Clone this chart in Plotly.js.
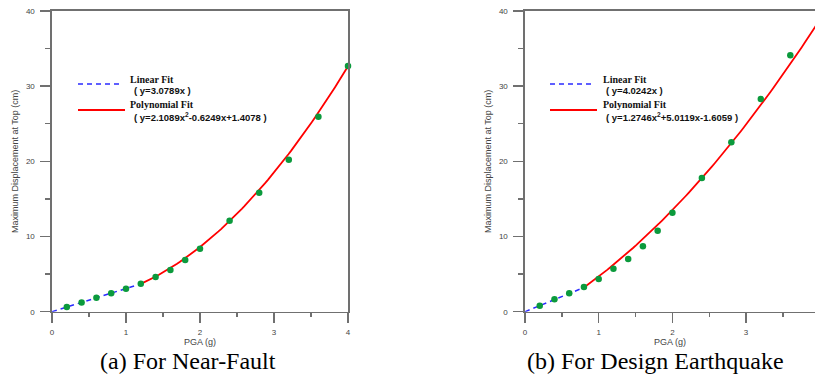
<!DOCTYPE html>
<html>
<head>
<meta charset="utf-8">
<script src="https://cdn.plot.ly/plotly-3.0.1.min.js"></script>
<style>html,body{margin:0;padding:0;background:#fff;}#chart{width:815px;height:375px;}</style>
</head>
<body>
<div id="chart"></div>
<script>
// ---- Data ----
const pgaA  = [0.2, 0.4, 0.6, 0.8, 1.0, 1.2, 1.4, 1.6, 1.8, 2.0, 2.4, 2.8, 3.2, 3.6, 4.0];
const dispA = [0.62, 1.24, 1.86, 2.44, 3.06, 3.72, 4.61, 5.54, 6.87, 8.38, 12.1, 15.83, 20.2, 25.94, 32.68];
const pgaB  = [0.2, 0.4, 0.6, 0.8, 1.0, 1.2, 1.4, 1.6, 1.8, 2.0, 2.4, 2.8, 3.2, 3.6];
const dispB = [0.80, 1.64, 2.44, 3.28, 4.35, 5.72, 7.01, 8.69, 10.78, 13.17, 17.78, 22.53, 28.29, 34.1];

// Fit coefficients as printed in the chart
const linCoefA  = 3.0789;
const polyCoefA = [2.1089, -0.6249, 1.4078];
const linCoefB  = 4.0242;
const polyCoefB = [1.2746, 5.0119, -1.6059];
// x extents of the drawn fit curves
const linSpanA  = [0, 1.16];
const polySpanA = [1.2, 4.0];
const linSpanB  = [0, 0.75];
const polySpanB = [0.8, 3.95];

const captions = ['(a) For Near-Fault', '(b) For Design Earthquake'];
const legendLabels = ['Linear Fit', 'Polynomial Fit'];
const eqA = ['( y=3.0789x )', '( y=2.1089x<sup>2</sup>-0.6249x+1.4078 )'];
const eqB = ['( y=4.0242x )', '( y=1.2746x<sup>2</sup>+5.0119x-1.6059 )'];

function samples(span, n) {
  const xs = [];
  for (let i = 0; i <= n; i++) xs.push(span[0] + (span[1] - span[0]) * i / n);
  return xs;
}
function linCurve(k, span) {
  const xs = samples(span, 20);
  return {x: xs, y: xs.map(v => k * v)};
}
function polyCurve(c, span) {
  const xs = samples(span, 80);
  return {x: xs, y: xs.map(v => c[0] * v * v + c[1] * v + c[2])};
}

const BLUE = '#2b2bff', RED = '#ff0000', GREEN = '#0b9a3c';
const lA = linCurve(linCoefA, linSpanA), pA = polyCurve(polyCoefA, polySpanA);
const lB = linCurve(linCoefB, linSpanB), pB = polyCurve(polyCoefB, polySpanB);

const traces = [
  {x: lA.x, y: lA.y, xaxis: 'x', yaxis: 'y', mode: 'lines', line: {color: BLUE, width: 1.5, dash: '5px,4px'}},
  {x: pA.x, y: pA.y, xaxis: 'x', yaxis: 'y', mode: 'lines', line: {color: RED, width: 1.8}},
  {x: pgaA, y: dispA, xaxis: 'x', yaxis: 'y', mode: 'markers', cliponaxis: false, marker: {color: GREEN, size: 6.5}},
  {x: lB.x, y: lB.y, xaxis: 'x2', yaxis: 'y2', mode: 'lines', line: {color: BLUE, width: 1.5, dash: '5px,4px'}},
  {x: pB.x, y: pB.y, xaxis: 'x2', yaxis: 'y2', mode: 'lines', line: {color: RED, width: 1.8}},
  {x: pgaB, y: dispB, xaxis: 'x2', yaxis: 'y2', mode: 'markers', cliponaxis: false, marker: {color: GREEN, size: 6.5}}
];

const W = 815, H = 375;
const px = v => v / W, py = v => 1 - v / H;
const AXC = '#707070', TXT = '#444444';
const tickFont = {family: 'Liberation Sans, Arial, sans-serif', size: 8, color: TXT};
const titleFont = {family: 'Liberation Sans, Arial, sans-serif', size: 9, color: TXT};

function xAxis(domain, range, mirror) {
  return {
    domain: domain, range: range, showgrid: false, zeroline: false,
    showline: true, linecolor: AXC, linewidth: 1.6, mirror: mirror,
    ticks: 'outside', ticklen: 10, tickwidth: 1.4, tickcolor: AXC, dtick: 1, tick0: 0,
    minor: {dtick: 0.5, ticks: 'outside', ticklen: 4, tickwidth: 1.4, tickcolor: AXC},
    tickfont: tickFont, ticklabelstandoff: 2,
    title: {text: 'PGA (g)', font: titleFont, standoff: 3}
  };
}
function yAxis(domain, anchor, mirror) {
  return {
    domain: domain, range: [0, 40], anchor: anchor, showgrid: false, zeroline: false,
    showline: true, linecolor: AXC, linewidth: 1.6, mirror: mirror,
    ticks: 'outside', ticklen: 10, tickwidth: 1.4, tickcolor: AXC, dtick: 10, tick0: 0,
    minor: {dtick: 5, ticks: 'outside', ticklen: 5, tickwidth: 1.4, tickcolor: AXC},
    tickfont: tickFont, ticklabelstandoff: 4,
    title: {text: 'Maximum Displacement at Top (cm)', font: titleFont, standoff: 6}
  };
}

const yDom = [1 - 311.7 / H, 1 - 11 / H];
const layout = {
  width: W, height: H, margin: {l: 0, r: 0, t: 0, b: 0},
  paper_bgcolor: '#fff', plot_bgcolor: '#fff', showlegend: false,
  xaxis: xAxis([px(52), px(348)], [0, 4], true),
  yaxis: yAxis(yDom, 'x', true),
  xaxis2: Object.assign(xAxis([px(525), 1], [0, 3.935], true), {anchor: 'y2'}),
  yaxis2: yAxis(yDom, 'x2', false),
  shapes: [], annotations: []
};

const legendFontSerif = {family: 'Liberation Serif, Times New Roman, serif', size: 10, color: '#111'};
const eqFont = {family: 'Liberation Sans, Arial, sans-serif', size: 9.5, color: '#111'};
function addLegend(x0, x1, textX, eqX, eqs) {
  layout.shapes.push({type: 'line', xref: 'paper', yref: 'paper', x0: px(x0), x1: px(x1), y0: py(84), y1: py(84),
    line: {color: BLUE, width: 1.5, dash: '5px,4px'}});
  layout.shapes.push({type: 'line', xref: 'paper', yref: 'paper', x0: px(x0), x1: px(x1 + 2), y0: py(110), y1: py(110),
    line: {color: RED, width: 1.8}});
  const rows = [[legendLabels[0], textX, 79, legendFontSerif], [eqs[0], eqX, 90, eqFont],
                [legendLabels[1], textX, 104, legendFontSerif], [eqs[1], eqX, 117, eqFont]];
  rows.forEach(r => {
    layout.annotations.push({xref: 'paper', yref: 'paper', x: px(r[1]), y: py(r[2]), xanchor: 'left', yanchor: 'middle',
      text: '<b>' + r[0] + '</b>', showarrow: false, font: r[3]});
  });
}
addLegend(78, 123, 128, 131.5, eqA);
addLegend(550, 595, 601, 604, eqB);

const capFont = {family: 'Liberation Serif, Times New Roman, serif', size: 24, color: '#000'};
layout.annotations.push({xref: 'paper', yref: 'paper', x: px(187.5), y: py(361), xanchor: 'center', yanchor: 'middle',
  text: captions[0], showarrow: false, font: capFont});
layout.annotations.push({xref: 'paper', yref: 'paper', x: px(655), y: py(361), xanchor: 'center', yanchor: 'middle',
  text: captions[1], showarrow: false, font: capFont});

Plotly.newPlot('chart', traces, layout, {staticPlot: true, displayModeBar: false});
</script>
</body>
</html>
